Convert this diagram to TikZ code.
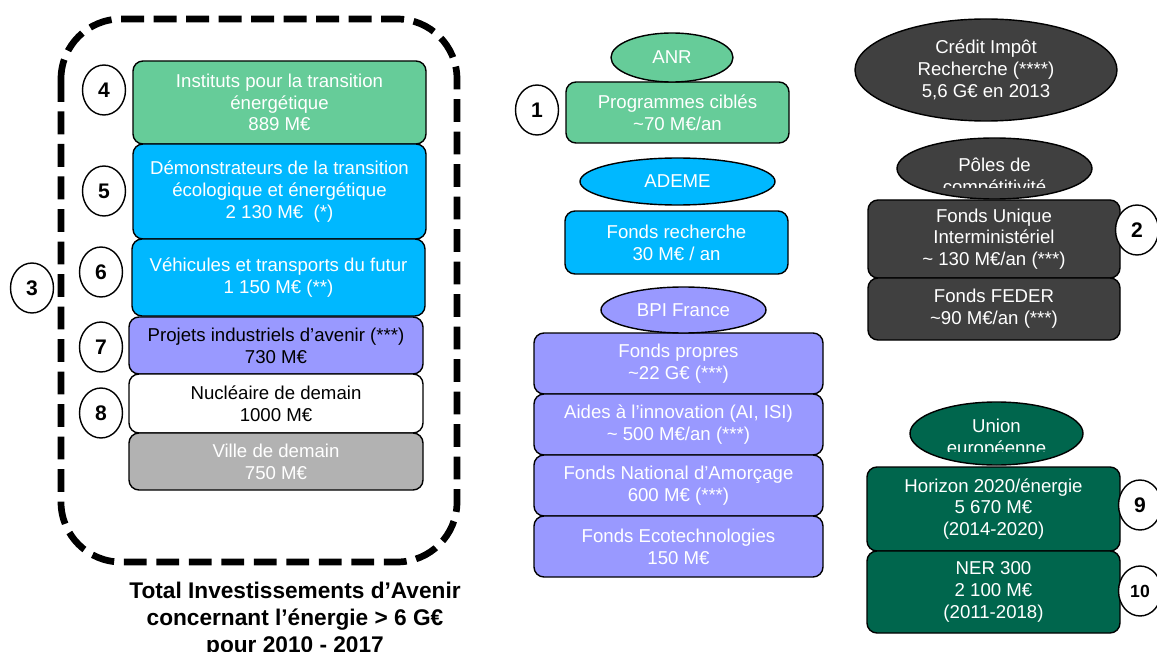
\documentclass[tikz,border=0pt]{standalone}
\usepackage{fontspec}
\setmainfont{Liberation Sans}
\usepackage{tikz}
\usetikzlibrary{shapes.geometric}

\definecolor{anrgreen}{RGB}{102,204,153}
\definecolor{ademeblue}{RGB}{0,184,255}
\definecolor{bpipurple}{RGB}{153,153,255}
\definecolor{villegray}{RGB}{178,178,178}
\definecolor{darkbox}{RGB}{64,64,64}
\definecolor{eugreen}{RGB}{0,102,77}

\begin{document}
\begin{tikzpicture}[x=0.02cm,y=-0.02cm,
  sz/.style 2 args={minimum width=#1*0.02cm,minimum height=#2*0.02cm},
  txt/.style={inner sep=0pt,align=center,text=white,font=\fontsize{10.6}{12.4}\selectfont},
  fund/.style={txt,draw,line width=0.8pt,rounded corners=0.2cm},
  agency/.style={txt,ellipse,draw,line width=0.8pt},
  num/.style={ellipse,draw,line width=0.8pt,fill=white,inner sep=0pt,
    minimum width=0.86cm,minimum height=1cm,font=\fontsize{12}{12}\selectfont\bfseries}]
\useasboundingbox (0,0) rectangle (1157,652);

% Investissements d'Avenir
\draw[line width=3.8pt,dash pattern=on 13pt off 5.5pt,rounded corners=1.2cm] (61,19) rectangle (457,562);
\node[fund,sz={293}{83},fill=anrgreen] (inst) at (279.5,102.5) {Instituts pour la transition\\énergétique\\889 M€};
\node[fund,sz={293}{95},fill=ademeblue] (demo) at (279.5,191.5) {Démonstrateurs de la transition\\écologique et énergétique\\2 130 M€\ \ (*)};
\node[fund,sz={293}{77},fill=ademeblue] (vehi) at (278.5,277.5) {Véhicules et transports du futur\\1 150 M€ (**)};
\node[fund,sz={294}{57},fill=bpipurple,text=black] (proj) at (276,345.5) {Projets industriels d’avenir (***)\\730 M€};
\node[fund,sz={294}{59},fill=white,text=black] (nucl) at (276,403.5) {Nucléaire de demain\\1000 M€};
\node[fund,sz={294}{57},fill=villegray] (ville) at (276,461.5) {Ville de demain\\750 M€};
\node[txt,text=black,font=\fontsize{12.9}{15.4}\selectfont\bfseries] (total) at (295,619.5) {Total Investissements d’Avenir\\concernant l’énergie > 6 G€\\pour 2010 - 2017};

% ANR, ADEME, BPI
\node[fund,sz={223}{61},fill=anrgreen] (prog) at (677.5,112.5) {Programmes ciblés\\\textasciitilde70 M€/an};
\node[agency,sz={122}{49},fill=anrgreen] (anr) at (672,57.5) {ANR};
\node[agency,sz={195}{47},fill=ademeblue] (ademe) at (677.5,181.5) {ADEME};
\node[fund,sz={223}{63},fill=ademeblue] (frech) at (676.5,242.5) {Fonds recherche\\30 M€ / an};
\node[fund,sz={289}{61},fill=bpipurple] (fprop) at (678.5,363.5) {Fonds propres\\\textasciitilde22 G€ (***)};
\node[fund,sz={289}{61},fill=bpipurple] (aides) at (678.5,424.5) {Aides à l’innovation (AI, ISI)\\\textasciitilde{} 500 M€/an (***)};
\node[fund,sz={289}{61},fill=bpipurple] (fna) at (678.5,485.5) {Fonds National d’Amorçage\\600 M€ (***)};
\node[fund,sz={289}{61},fill=bpipurple] (ecot) at (678.5,546.5) {Fonds Ecotechnologies\\150 M€};
\node[agency,sz={165}{46},fill=bpipurple] (bpi) at (683.5,310) {BPI France};

% CIR, poles, UE
\node[agency,sz={262}{102},fill=darkbox] (cir) at (986,70) {Crédit Impôt\\Recherche (****)\\5,6 G€ en 2013};
\node[fund,sz={252}{78},fill=darkbox] (fui) at (994,239) {Fonds Unique\\Interministériel\\\textasciitilde{} 130 M€/an (***)};
\node[fund,sz={252}{62},fill=darkbox] (feder) at (994,309) {Fonds FEDER\\\textasciitilde90 M€/an (***)};
\node[agency,sz={195}{61},fill=darkbox] (poles) at (994.5,168.5) {};
\begin{scope}
\clip (890,130) rectangle (1100,187.5);
\node[txt] (polestxt) at (994.5,178) {Pôles de\\compétitivité};
\end{scope}
\node[fund,sz={253}{84},fill=eugreen] (h2020) at (993.5,509) {Horizon 2020/énergie\\5 670 M€\\(2014-2020)};
\node[fund,sz={253}{82},fill=eugreen] (ner) at (993.5,592) {NER 300\\2 100 M€\\(2011-2018)};
\node[agency,sz={173}{63},fill=eugreen] (ue) at (996.5,433.5) {};
\begin{scope}
\clip (900,395) rectangle (1090,451);
\node[txt] (uetxt) at (996.5,439) {Union\\européenne};
\end{scope}

\node[num] (n1) at (537,110) {1};
\node[num] (n2) at (1137,230) {2};
\node[num] (n3) at (32,288) {3};
\node[num] (n4) at (104,90) {4};
\node[num] (n5) at (104,191) {5};
\node[num] (n6) at (101,272) {6};
\node[num] (n7) at (101,347) {7};
\node[num] (n8) at (101,413) {8};
\node[num] (n9) at (1140,505) {9};
\node[num,font=\fontsize{10}{12}\selectfont\bfseries] (n10) at (1140,591) {10};
\end{tikzpicture}
\end{document}
